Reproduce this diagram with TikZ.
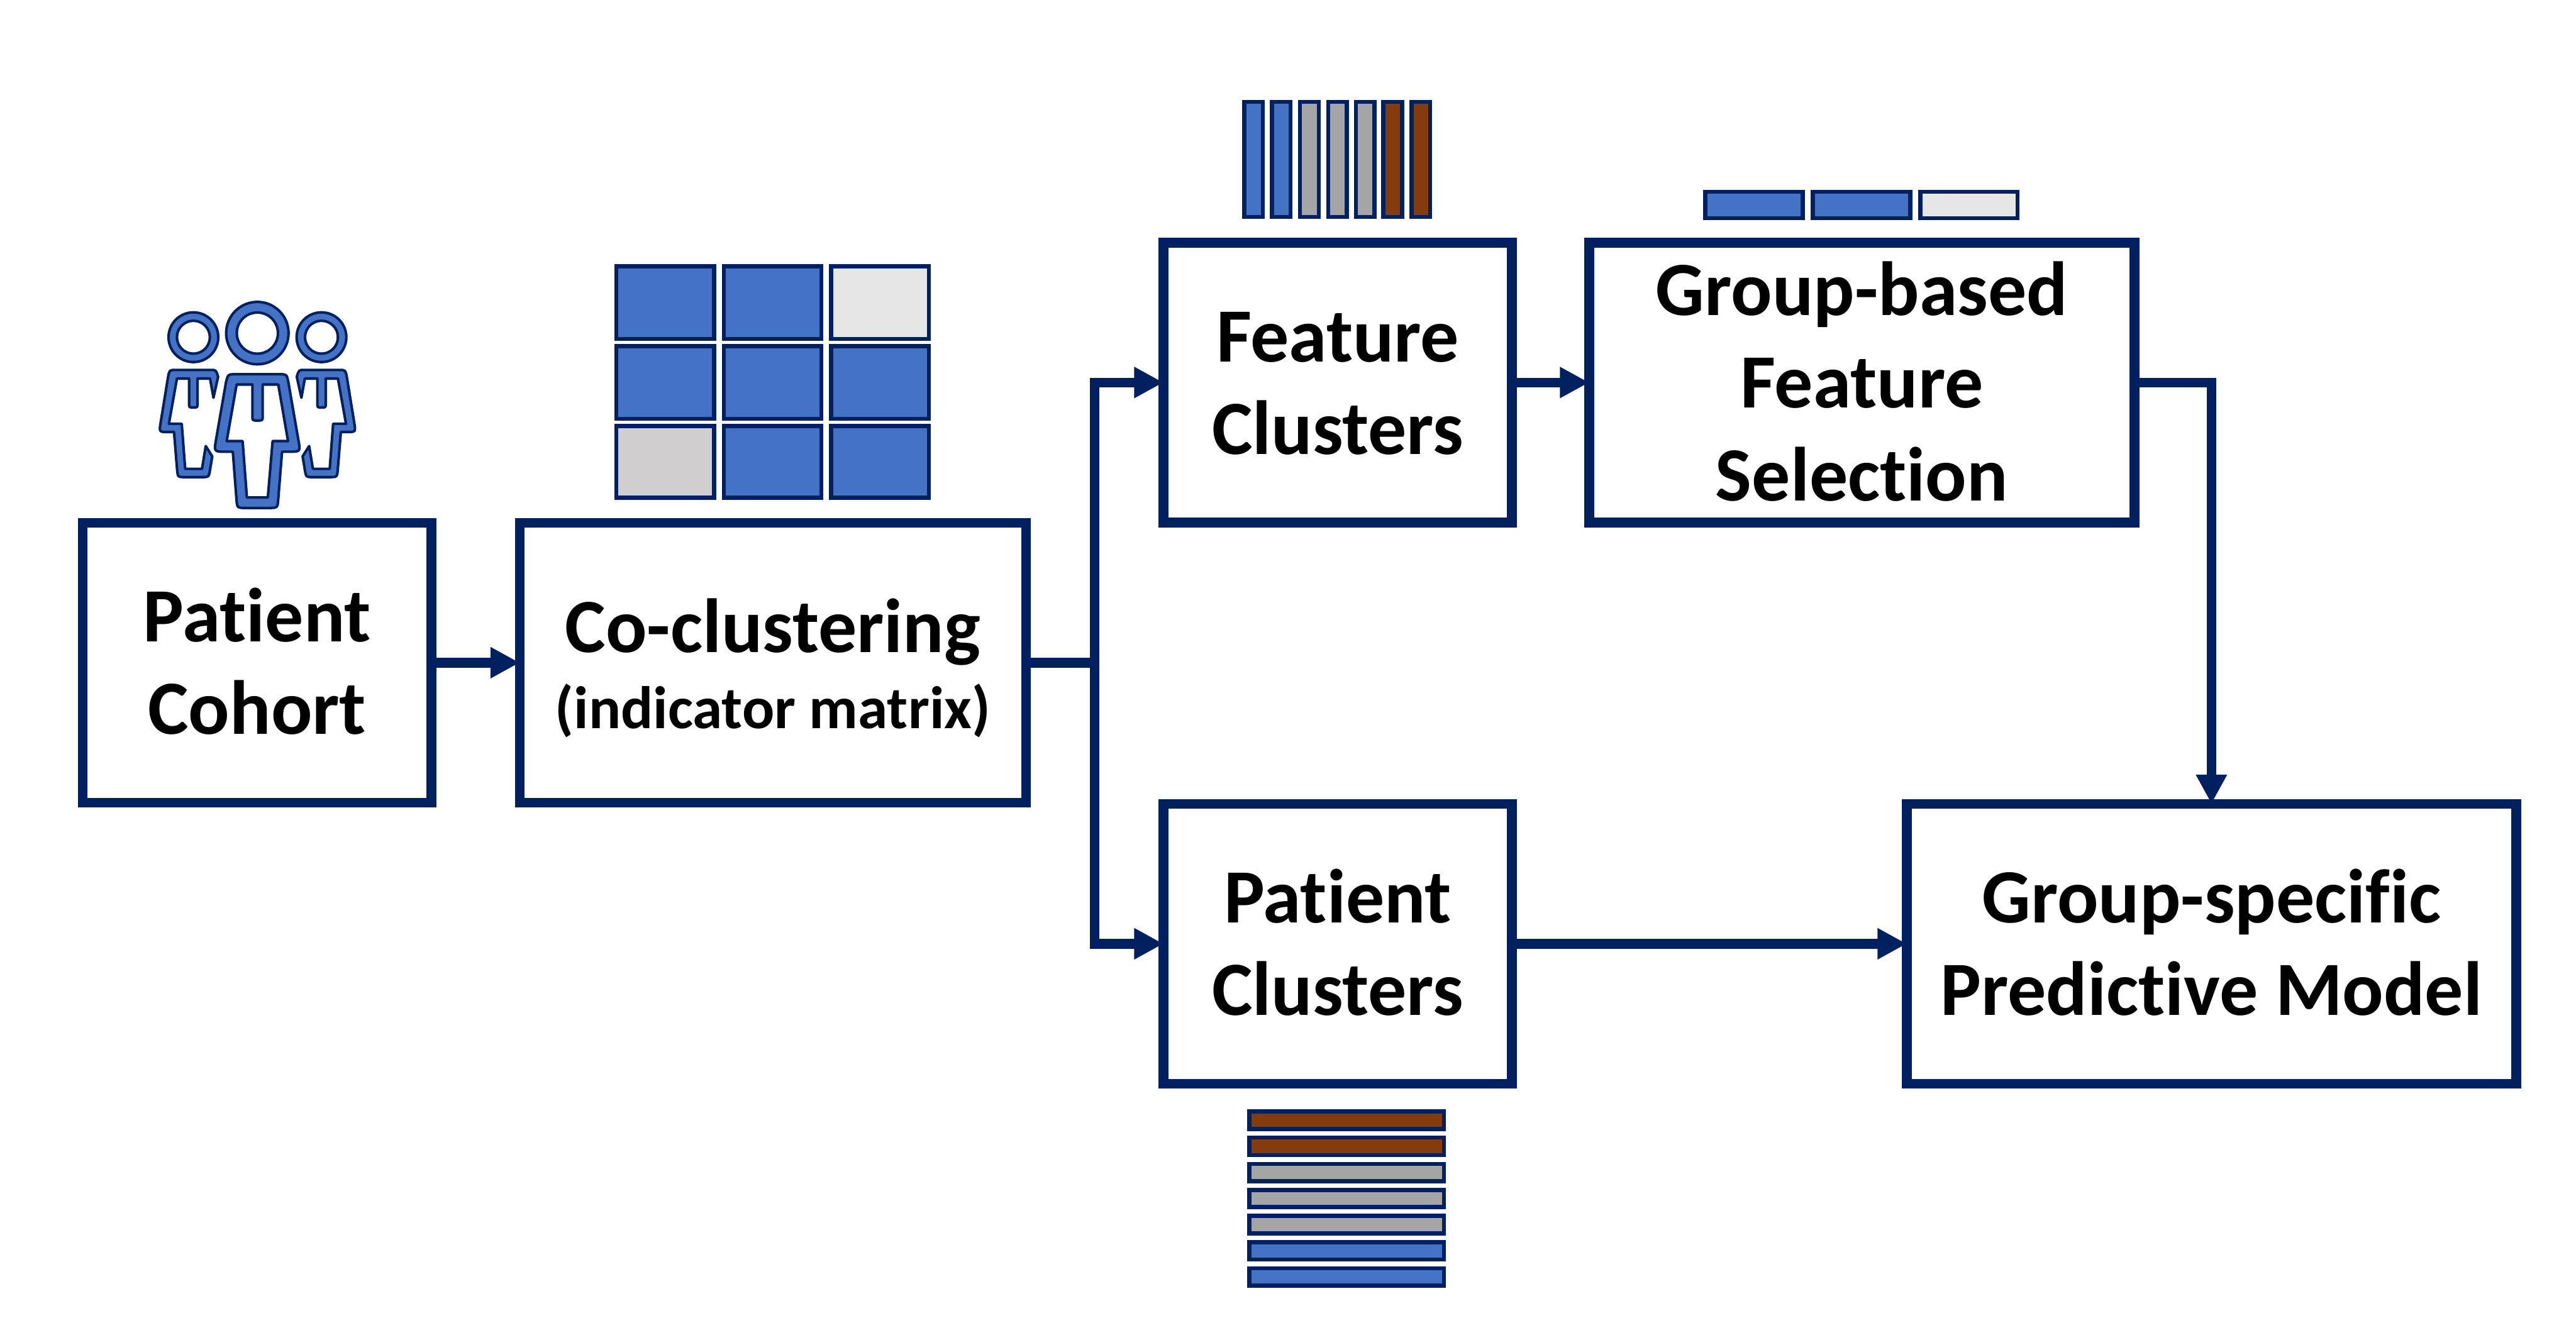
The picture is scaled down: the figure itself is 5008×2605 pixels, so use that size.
\documentclass[tikz,border=0pt]{standalone}
\usepackage{fontspec}
\setmainfont[Ligatures=NoCommon]{Carlito}
\usetikzlibrary{arrows.meta}
\definecolor{navy}{HTML}{002060}
\definecolor{cellblue}{HTML}{4472C4}
\definecolor{cellgrey}{HTML}{A5A5A5}
\definecolor{cellbrown}{HTML}{843C0C}
\definecolor{celllight}{HTML}{E6E6E6}
\definecolor{cellmid}{HTML}{D0CECE}
% every line is stacked by its strut: height + depth = baseline distance
\newcommand{\lineA}{\rule[-10.125pt]{0pt}{45pt}}
\newcommand{\lineB}{\rule[-8.125pt]{0pt}{35pt}}
\newcommand{\boxfont}{\fontsize{37.3pt}{0pt}\selectfont\bfseries\setlength{\lineskip}{0pt}\relax}
\newcommand{\sideperson}{
  \path[iconpart] (185,478) -- (390,478) .. controls (420,478) .. (432,518) -- (405,640) -- (385,528)
    -- (312,528) -- (312,672) .. controls (312,697) .. (288,697) .. controls (263,697) .. (263,672)
    -- (263,528) -- (192,528) -- (145,792) -- (220,792) -- (240,1055) -- (338,1055) -- (360,922)
    -- (398,982) -- (385,1060) .. controls (378,1103) .. (340,1103) -- (240,1103)
    .. controls (197,1103) .. (193,1060) -- (175,840) -- (140,840) .. controls (88,840) .. (97,785)
    -- (140,520) .. controls (148,478) .. (185,478) -- cycle;
  \path[iconpart,even odd rule] (288,287) circle (145) (288,287) circle (96);
}
\tikzset{
  x=0.25pt, y=-0.25pt,
  flowbox/.style={draw=navy, line width=4.75pt, fill=none, inner sep=0pt, outer sep=0pt,
    minimum height=136pt, align=center, text=black, font=\boxfont},
  link/.style={draw=navy, line width=4.75pt},
  flowarrow/.style={link, -{Triangle[length=14.25pt,width=14.25pt]}},
  cell/.style={draw=navy, line width=2pt},
  iconpart/.style={draw=navy, fill=cellblue, line width=1.25pt, line join=round},
}
\begin{document}
\begin{tikzpicture}
\useasboundingbox (0,0) rectangle (5008,2605);

\coordinate (split) at (2128,1288.5);

% boxes
\node[flowbox, minimum width=169.375pt] (cohort) at (499.75,1288.5) {\lineA Patient\\\lineA Cohort};
\node[flowbox, minimum width=246pt] (cocluster) at (1502.5,1288.5) {\lineA Co-clustering\\\lineB{\fontsize{29.2pt}{0pt}\selectfont (indicator matrix)}};
\node[flowbox, minimum width=169.375pt] (features) at (2600.75,743.75) {\lineA Feature\\\lineA Clusters};
\node[flowbox, minimum width=265pt] (selection) at (3619.5,743.75) {\lineA Group-based\\\lineA Feature\\\lineA Selection};
\node[flowbox, minimum width=169.375pt] (patients) at (2600.75,1835) {\lineA Patient\\\lineA Clusters};
\node[flowbox, minimum width=296.125pt] (model) at (4299.25,1835) {\lineA Group-specific\\\lineA Predictive Model};

% connectors
\draw[flowarrow] (cohort.east) -- (cocluster.west);
\draw[link] (cocluster.east) -- (split);
\draw[flowarrow] (split) |- (features.west);
\draw[flowarrow] (split) |- (patients.west);
\draw[flowarrow] (features.east) -- (selection.west);
\draw[flowarrow] (selection.east) -| (model.north);
\draw[flowarrow] (patients.east) -- (model.west);

% indicator matrix
\foreach \xa/\xb in {1198/1388,1407/1597,1616/1806}
  \foreach \ya/\yb in {518/659,673/814,828/968}
    \path[cell, fill=cellblue] (\xa,\ya) rectangle (\xb,\yb);
\path[cell, fill=celllight] (1616,518) rectangle (1806,659);
\path[cell, fill=cellmid] (1198,828) rectangle (1388,968);

% feature-cluster bars
\foreach \xa/\xb/\c in {2419/2455/cellblue,2473/2509/cellblue,2527/2564/cellgrey,2582/2618/cellgrey,2636/2672/cellgrey,2689/2726/cellbrown,2744/2780/cellbrown}
  \path[cell, fill=\c] (\xa,198) rectangle (\xb,422);

% selected-feature bars
\foreach \xa/\xb/\c in {3315/3505/cellblue,3524/3714/cellblue,3733/3922/celllight}
  \path[cell, fill=\c] (\xa,373) rectangle (\xb,424);

% patient-cluster bars
\foreach \ya/\yb/\c in {2161/2195/cellbrown,2212/2246/cellbrown,2263/2297/cellgrey,2314/2347/cellgrey,2364/2398/cellgrey,2415/2449/cellblue,2466/2500/cellblue}
  \path[cell, fill=\c] (2429,\ya) rectangle (2807,\yb);

% patient icon (coordinates in 1/3 reference pixels)
\begin{scope}[shift={(280,560)}, x=0.083333pt, y=-0.083333pt]
  \sideperson
  \begin{scope}[shift={(1323,0)}, xscale=-1]
    \sideperson
  \end{scope}
  \path[iconpart,even odd rule] (661,263) circle (182) (661,263) circle (120);
  \path[iconpart,even odd rule]
    (535,503) -- (790,503) .. controls (832,503) .. (842,550) -- (900,885) .. controls (913,955) .. (843,955)
    -- (805,955) -- (783,1230) .. controls (779,1283) .. (725,1283) -- (595,1283)
    .. controls (543,1283) .. (539,1230) -- (518,955) -- (478,955) .. controls (408,955) .. (420,885)
    -- (478,550) .. controls (490,503) .. (535,503) -- cycle
    (540,563) -- (632,563) -- (632,745) .. controls (632,773) .. (662,773) .. controls (692,773) .. (692,745)
    -- (692,563) -- (783,563) -- (840,893) -- (750,893) -- (722,1222) -- (600,1222) -- (575,893) -- (482,893) -- cycle;
\end{scope}
\end{tikzpicture}
\end{document}
